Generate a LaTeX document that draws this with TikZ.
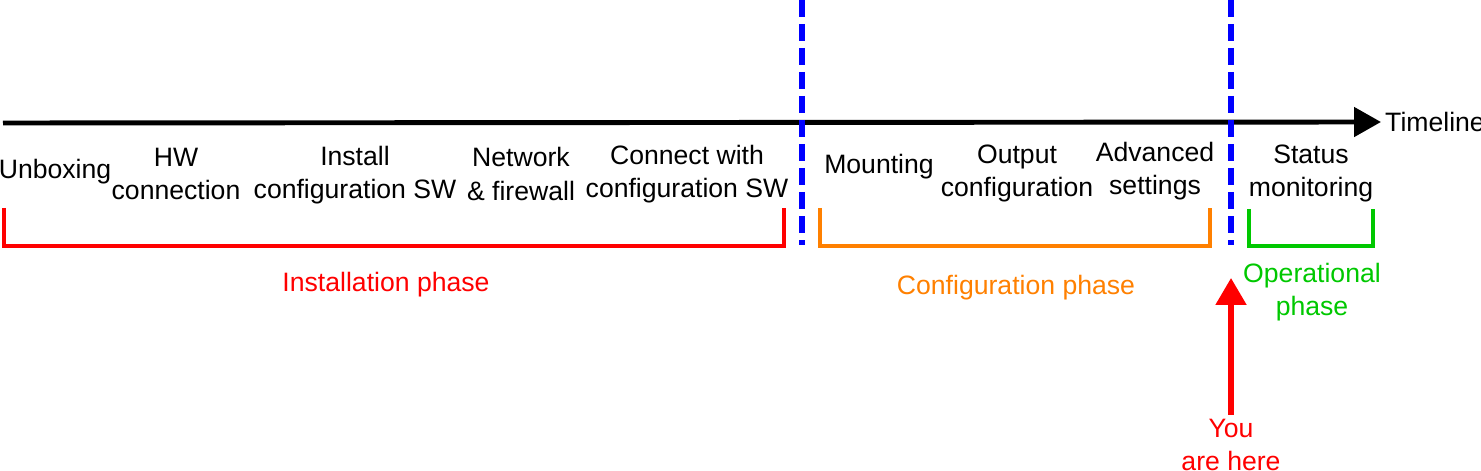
\documentclass[tikz,border=0pt]{standalone}
\usepackage{fontspec}
\setmainfont{Liberation Sans}
\usepackage{xcolor}
\usetikzlibrary{arrows.meta}
\definecolor{phasered}{RGB}{255,0,0}
\definecolor{phaseorange}{RGB}{255,128,0}
\definecolor{phasegreen}{RGB}{0,200,0}
\definecolor{sepblue}{RGB}{0,0,255}

\begin{document}
\begin{tikzpicture}[x=1cm,y=-1cm,
	steplbl/.style={align=center,inner sep=1pt,font=\fontsize{7.57}{9.4}\selectfont},
	phaselbl/.style={align=center,inner sep=1pt,font=\fontsize{7.57}{9.4}\selectfont},
	bracket/.style={line width=1.3pt},
	sepline/.style={sepblue,line width=1.6pt,dash pattern=on 0.17cm off 0.07cm}]
	\useasboundingbox (0,0) rectangle (14.81,4.71);
	
	\coordinate (tstart) at (0.03,1.23);
	\node[steplbl,anchor=west] (tline) at (13.81,1.22) {Timeline};
	\draw[line width=1.4pt,-{Triangle[width=0.29cm,length=0.27cm]}] (tstart) -- (tline.west);
	
	\coordinate (sepa top) at (8.02,0);
	\coordinate (sepa bot) at (8.02,2.45);
	\coordinate (sepb top) at (12.31,0);
	\coordinate (sepb bot) at (12.31,2.45);
	\draw[sepline] (sepa top) -- (sepa bot);
	\draw[sepline] (sepb top) -- (sepb bot);
	
	\node[steplbl] (unbox) at (0.55,1.72) {Unboxing};
	\node[steplbl] (hwconn) at (1.76,1.74) {HW\\connection};
	\node[steplbl] (instsw) at (3.55,1.75) {Install\\configuration SW};
	\node[steplbl] (netfw) at (5.21,1.74) {Network\\\& firewall};
	\node[steplbl] (connsw) at (6.87,1.74) {Connect with\\configuration SW};
	\node[steplbl] (mount) at (8.79,1.67) {Mounting};
	\node[steplbl] (outcfg) at (10.17,1.73) {Output\\configuration};
	\node[steplbl] (advset) at (11.55,1.71) {Advanced\\settings};
	\node[steplbl] (status) at (13.11,1.73) {Status\\monitoring};
	
	\coordinate (inst a) at (0.04,2.08);
	\coordinate (inst b) at (7.84,2.08);
	\draw[bracket,phasered] (inst a) |- (7.84,2.46) -- (inst b);
	\node[phaselbl,phasered] (instph) at (3.86,2.85) {Installation phase};
	
	\coordinate (conf a) at (8.20,2.08);
	\coordinate (conf b) at (12.10,2.08);
	\draw[bracket,phaseorange] (conf a) |- (12.10,2.46) -- (conf b);
	\node[phaselbl,phaseorange] (confph) at (10.16,2.88) {Configuration phase};
	
	\coordinate (oper a) at (12.49,2.09);
	\coordinate (oper b) at (13.73,2.09);
	\draw[bracket,phasegreen] (oper a) |- (13.73,2.46) -- (oper b);
	\node[phaselbl,phasegreen] (operph) at (13.12,2.92) {Operational\\phase};
	
	\node[phaselbl,phasered,anchor=north] (here) at (12.31,4.15) {You\\are here};
	\coordinate (herept) at (12.31,2.78);
	\draw[phasered,line width=1.5pt,-{Triangle[width=0.30cm,length=0.27cm]}] (here.north) -- (herept);
\end{tikzpicture}
\end{document}
